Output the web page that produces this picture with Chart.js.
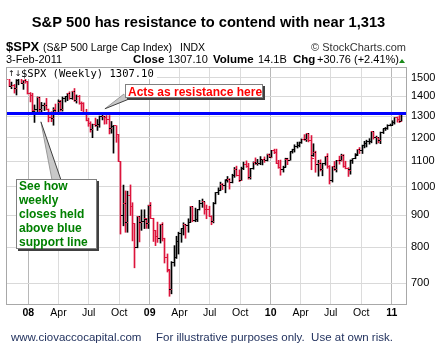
<!DOCTYPE html>
<html><head><meta charset="utf-8">
<script src="https://cdn.jsdelivr.net/npm/chart.js@4"></script>
<style>html,body{margin:0;padding:0;background:#fff}canvas{display:block}</style>
</head><body>
<canvas id="c" width="441" height="356"></canvas>
<script>
// ---- data (weekly $SPX bars) ----
const weekEnding = [
 '2007-11-02','2007-11-09','2007-11-16','2007-11-23','2007-11-30','2007-12-07','2007-12-14','2007-12-21','2007-12-28',
 '2008-01-04','2008-01-11','2008-01-18','2008-01-25','2008-02-01','2008-02-08','2008-02-15','2008-02-22','2008-02-29','2008-03-07',
 '2008-03-14','2008-03-20','2008-03-28','2008-04-04','2008-04-11','2008-04-18','2008-04-25','2008-05-02','2008-05-09','2008-05-16',
 '2008-05-23','2008-05-30','2008-06-06','2008-06-13','2008-06-20','2008-06-27','2008-07-03','2008-07-11','2008-07-18','2008-07-25',
 '2008-08-01','2008-08-08','2008-08-15','2008-08-22','2008-08-29','2008-09-05','2008-09-12','2008-09-19','2008-09-26','2008-10-03',
 '2008-10-10','2008-10-17','2008-10-24','2008-10-31','2008-11-07','2008-11-14','2008-11-21','2008-11-28','2008-12-05','2008-12-12',
 '2008-12-19','2008-12-26',
 '2009-01-02','2009-01-09','2009-01-16','2009-01-23','2009-01-30','2009-02-06','2009-02-13','2009-02-20','2009-02-27','2009-03-06',
 '2009-03-13','2009-03-20','2009-03-27','2009-04-03','2009-04-09','2009-04-17','2009-04-24','2009-05-01','2009-05-08','2009-05-15',
 '2009-05-22','2009-05-29','2009-06-05','2009-06-12','2009-06-19','2009-06-26','2009-07-02','2009-07-10','2009-07-17','2009-07-24',
 '2009-07-31','2009-08-07','2009-08-14','2009-08-21','2009-08-28','2009-09-04','2009-09-11','2009-09-18','2009-09-25','2009-10-02',
 '2009-10-09','2009-10-16','2009-10-23','2009-10-30','2009-11-06','2009-11-13','2009-11-20','2009-11-27','2009-12-04','2009-12-11',
 '2009-12-18','2009-12-24','2009-12-31',
 '2010-01-08','2010-01-15','2010-01-22','2010-01-29','2010-02-05','2010-02-12','2010-02-19','2010-02-26','2010-03-05','2010-03-12',
 '2010-03-19','2010-03-26','2010-04-01','2010-04-09','2010-04-16','2010-04-23','2010-04-30','2010-05-07','2010-05-14','2010-05-21',
 '2010-05-28','2010-06-04','2010-06-11','2010-06-18','2010-06-25','2010-07-02','2010-07-09','2010-07-16','2010-07-23','2010-07-30',
 '2010-08-06','2010-08-13','2010-08-20','2010-08-27','2010-09-03','2010-09-10','2010-09-17','2010-09-24','2010-10-01','2010-10-08',
 '2010-10-15','2010-10-22','2010-10-29','2010-11-05','2010-11-12','2010-11-19','2010-11-26','2010-12-03','2010-12-10','2010-12-17',
 '2010-12-23','2010-12-31',
 '2011-01-07','2011-01-14','2011-01-21','2011-01-28','2011-02-03'
];
const weekOpen = [
 1535,1509,1453,1458,1440,1481,1504,1468,1484,
 1476,1414,1402,1325,1330,1395,1331,1350,1353,1330,1293,1288,1330,1315,1370,1333,1390,1398,1414,1388,1425,1376,1400,1361,1360,1318,
 1278,1263,1239,1261,1258,1260,1296,1298,1292,1283,1242,1252,1255,1213,1099,899,940,877,969,931,873,800,896,876,880,888,
 873,932,890,850,832,826,869,827,770,735,683,757,769,816,842,857,870,866,878,929,883,887,919,940,946,921,919,896,879,940,
 979,987,1010,1004,1026,1029,1016,1043,1068,1044,1025,1071,1088,1080,1036,1069,1093,1091,1091,1106,1106,1102,1126,
 1115,1145,1136,1092,1074,1066,1076,1109,1105,1139,1150,1160,1167,1178,1194,1192,1217,1187,1122,1136,1088,1089,1065,1092,1118,1077,
 1023,1078,1065,1103,1102,1122,1079,1072,1065,1105,1110,1126,1149,1146,1165,1176,1183,1183,1226,1199,1200,1189,1225,1240,1244,1257,
 1258,1272,1293,1283,1276
];
const weekHigh = [
 1552.8,1520,1474.9,1462.2,1488.9,1508.1,1523.6,1484.5,1498.9,
 1478,1419,1415.2,1355,1396,1395.4,1367.9,1364.6,1388.3,1335,1321.7,1341.5,1359.7,1380.9,1378.6,1395.9,1399,1415,1422.7,1425.9,
 1440.2,1406.3,1404.1,1370.6,1366.6,1333.5,1290.4,1273.3,1262.3,1291,1284,1300.6,1313.2,1300.2,1303,1303,1274.4,1256,1255,1215,
 1099,1006.9,985.4,984.4,1007.5,943.2,873.4,896.7,896.3,918.6,918.9,890,
 934.7,943.9,890.4,851.6,877.9,870.8,876,827,780.1,735,758.3,804.5,833,845.6,856.9,875.6,871,888.7,930.2,930,
 924.6,920,951.7,956.2,946,935,931,898.6,944,979.8,996.7,1018,1012.6,1027.6,1039.5,1031.1,1048.2,1074.8,1080.2,1065.2,
 1076.2,1096.6,1101.4,1091.7,1071.5,1097.4,1113.7,1107.5,1119.1,1107.6,1117.7,1129.6,1130.4,
 1145.4,1150.4,1150.5,1103.7,1104.7,1080,1112.4,1112.4,1139,1150.2,1169.2,1180.7,1181.4,1194.7,1213.9,1217.3,1219.8,1209.9,1173.6,1141.8,
 1104,1105.7,1092,1119.1,1131.2,1082.6,1078.2,1099.1,1103.7,1120.9,1129.2,1127.2,1100.1,1074.1,1105.1,1110.9,1131.5,1148.9,1157.2,1167.7,
 1184.4,1189.4,1196.1,1227.1,1227.1,1207.4,1200,1225.6,1240.4,1246.7,1259.3,1262.6,
 1278.2,1293.3,1296.1,1302.7,1308.6
];
const weekLow = [
 1489.6,1450.3,1439.2,1416,1406.1,1460.3,1467.8,1435.7,1469,
 1411.2,1370.6,1312.8,1270.1,1322,1316.8,1321.5,1327,1330.6,1272.7,1273.4,1257,1312,1312.6,1324.4,1324.4,1370.2,1376.8,1384.1,1383.2,
 1373.1,1364.6,1358.9,1326.1,1316.4,1277.3,1252,1225.3,1200.4,1251,1233,1247.5,1282,1262,1263,1217,1220.5,1133.5,1179.8,1099,
 839.8,865.8,845.3,845.3,899.7,818.7,741,798,815.7,851.4,857.1,857.7,
 857.3,889.3,817,804.5,814.3,812.2,818.4,754.3,729.6,666.8,672.9,745.5,767.2,779.8,814.5,836.9,826.8,845.4,877,878.9,
 878.9,879.6,918,927.1,903.8,888.9,896,869.3,875.3,939,972,986,990.2,978.5,1017.9,992,1015,1036.1,1041.2,1020,
 1024,1066.1,1075.2,1029.4,1029.4,1068,1086.7,1083.7,1085.9,1085,1095.4,1101,1114.8,
 1114,1131.4,1090.2,1071.6,1044.5,1056.5,1075.5,1086,1104,1133.5,1138,1155,1160,1175.3,1188.6,1183.7,1181.6,1065.8,1120,1055.9,
 1040.8,1060.9,1042.2,1084,1071.6,1010.9,1018.3,1063.3,1056.9,1088,1101,1075.6,1069.3,1039.7,1048.3,1091,1110,1122.8,1131.9,1131.9,
 1155.7,1159.7,1171.7,1177.7,1194.1,1173,1177.4,1174,1218.8,1232.8,1238,1254,
 1257.6,1262.2,1271.3,1269.3,1276.3
];
const weekClose = [
 1509.65,1453.70,1458.74,1440.70,1481.14,1504.66,1467.95,1484.46,1478.49,
 1411.63,1401.02,1325.19,1330.61,1395.42,1331.29,1349.99,1353.11,1330.63,1293.37,1288.14,1329.51,1315.22,1370.40,1332.83,1390.33,
 1397.84,1413.90,1388.28,1425.35,1375.93,1400.38,1360.68,1360.03,1317.93,1278.38,1262.90,1239.49,1260.68,1257.76,1260.31,1296.32,
 1298.20,1292.20,1282.83,1242.31,1251.70,1255.08,1213.27,1099.23,899.22,940.55,876.77,968.75,930.99,873.29,800.03,896.24,876.07,
 879.73,887.88,872.80,
 931.80,890.35,850.12,831.95,825.88,868.60,826.84,770.05,735.09,683.38,756.55,768.54,815.94,842.50,856.56,869.60,866.23,877.52,929.23,882.88,
 887.00,919.14,940.09,946.21,921.23,918.90,896.42,879.13,940.38,979.26,987.48,1010.48,1004.09,1026.13,1028.93,1016.40,1042.73,1068.30,1044.38,1025.21,
 1071.49,1087.68,1079.60,1036.19,1069.30,1093.48,1091.38,1091.49,1105.98,1106.41,1102.47,1126.48,1115.10,
 1144.98,1136.03,1091.76,1073.87,1066.19,1075.51,1109.17,1104.49,1138.70,1149.99,1159.90,1166.59,1178.10,1194.37,1192.13,1217.28,1186.69,1110.88,1135.68,1087.69,
 1089.41,1064.88,1091.60,1117.51,1076.76,1022.58,1077.96,1064.88,1102.66,1101.60,1121.64,1079.25,1071.69,1064.59,1104.51,1109.55,1125.59,1148.67,1146.24,1165.15,
 1176.19,1183.08,1183.26,1225.85,1199.21,1199.73,1189.40,1224.71,1240.40,1243.91,1256.77,1257.64,
 1271.50,1293.24,1283.35,1276.34,1307.10
];
const priorClose = 1535.28;
const resistanceLevel = 1313;
const yTickValues = [700, 800, 900, 1000, 1100, 1200, 1300, 1400, 1500];
const yRange = [648, 1554];
const xTickDates = ['2008-01-01','2008-04-01','2008-07-01','2008-10-01','2009-01-01','2009-04-01','2009-07-01','2009-10-01',
                    '2010-01-01','2010-04-01','2010-07-01','2010-10-01','2011-01-01'];
const xTickLabels = ['08','Apr','Jul','Oct','09','Apr','Jul','Oct','10','Apr','Jul','Oct','11'];
const xRangeDates = ['2007-10-29', '2011-02-13'];

// ---- helpers ----
function dayNum(s){ const p = s.split('-').map(Number); return Date.UTC(p[0], p[1]-1, p[2]) / 864e5; }
function weekStart(s){ const n = dayNum(s); const dow = new Date(n*864e5).getUTCDay(); return n - ((dow + 6) % 7); }
const xMin = dayNum(xRangeDates[0]) - 0.25, xMax = dayNum(xRangeDates[1]);
const RED = '#dc143c', BLACK = '#000000';
const barX = weekEnding.map(weekStart);
const isUp = weekClose.map((c, i) => c >= (i ? weekClose[i-1] : priorClose));
const barColor = isUp.map(u => u ? BLACK : RED);
function tickImg(color, side){
  const c = document.createElement('canvas'); c.width = 5; c.height = 1;
  const g = c.getContext('2d'); g.fillStyle = color; g.fillRect(side === 'L' ? 0 : 3, 0, 2, 1);
  return c;
}
const imgs = { L: {u: tickImg(BLACK,'L'), d: tickImg(RED,'L')}, R: {u: tickImg(BLACK,'R'), d: tickImg(RED,'R')} };
const FONT = 'Arial, "Liberation Sans", sans-serif';

const crisp = {
  id: 'crisp',
  afterDatasetsUpdate(chart){
    chart.data.datasets.forEach((ds, i) => {
      if (!ds.crispX) return;
      chart.getDatasetMeta(i).data.forEach(el => {
        el.x = Math.floor(el.x) + 0.5;
        if (ds.crispY) el.y = Math.floor(el.y) + 0.5;
      });
    });
  }
};

function noteBox(ctx, x, y, w, h){
  ctx.fillStyle = '#404040'; ctx.fillRect(x + 2, y + 2, w, h);
  ctx.fillStyle = '#ffffff'; ctx.fillRect(x, y, w, h);
  ctx.strokeStyle = '#808080'; ctx.lineWidth = 1; ctx.strokeRect(x + 0.5, y + 0.5, w - 1, h - 1);
}
function wedge(ctx, b1, tip, b2){
  ctx.beginPath(); ctx.moveTo(b1[0], b1[1]); ctx.lineTo(tip[0], tip[1]); ctx.lineTo(b2[0], b2[1]); ctx.closePath();
  ctx.fillStyle = '#c8c8c8'; ctx.fill();
  ctx.strokeStyle = '#9a9a9a'; ctx.lineWidth = 1;
  ctx.beginPath(); ctx.moveTo(b1[0], b1[1]); ctx.lineTo(tip[0], tip[1]); ctx.stroke();
  ctx.strokeStyle = '#404040';
  ctx.beginPath(); ctx.moveTo(tip[0], tip[1]); ctx.lineTo(b2[0], b2[1]); ctx.stroke();
}

const decor = {
  id: 'decor',
  beforeDraw(chart){
    const ctx = chart.ctx; ctx.save(); ctx.fillStyle = '#fff'; ctx.fillRect(0, 0, chart.width, chart.height); ctx.restore();
  },
  afterDatasetsDraw(chart){
    const {ctx, chartArea: a, scales: {x, y}} = chart;
    ctx.save();
    // legend strip
    ctx.fillStyle = '#fff'; ctx.fillRect(a.left, a.top, 150, 11);
    ctx.fillStyle = '#000'; ctx.textBaseline = 'alphabetic'; ctx.textAlign = 'left';
    ctx.font = '8px "DejaVu Sans"'; ctx.fillText('\u2191\u2193', 8, 76);
    ctx.font = '10.5px "DejaVu Sans Mono", monospace'; ctx.fillText('$SPX (Weekly) 1307.10', 21, 76.5);
    // plot border
    ctx.strokeStyle = '#a8a8a8'; ctx.lineWidth = 1;
    ctx.strokeRect(a.left - 0.5, a.top - 0.5, a.right - a.left + 1, a.bottom - a.top + 1);
    // resistance note
    const t1 = [x.getPixelForValue(dayNum('2008-08-19')), y.getPixelForValue(1336)];
    wedge(ctx, [124, 94], t1, [134, 97]);
    noteBox(ctx, 125, 84, 138, 14);
    ctx.fillStyle = '#ff0000'; ctx.font = 'bold 12px ' + FONT;
    ctx.fillText('Acts as resistance here', 128, 95.5);
    // support note
    const t2 = [x.getPixelForValue(dayNum('2008-02-08')), y.getPixelForValue(1273)];
    wedge(ctx, [52, 180], t2, [61, 180]);
    noteBox(ctx, 16, 179, 81, 70);
    ctx.fillStyle = '#008000'; ctx.font = 'bold 12px ' + FONT;
    ['See how','weekly','closes held','above blue','support line'].forEach((s, i) => ctx.fillText(s, 19, 190 + i*14));
    ctx.restore();
  },
  afterDraw(chart){
    const ctx = chart.ctx;
    ctx.save();
    ctx.textBaseline = 'alphabetic';
    ctx.fillStyle = '#000'; ctx.textAlign = 'center'; ctx.font = 'bold 14.7px ' + FONT;
    ctx.fillText('S&P 500 has resistance to contend with near 1,313', 208.5, 26.5);
    ctx.textAlign = 'left';
    ctx.font = 'bold 13px ' + FONT; ctx.fillText('$SPX', 6, 50.5);
    ctx.font = '10.5px ' + FONT; ctx.fillText('(S&P 500 Large Cap Index)', 43, 50.5);
    ctx.fillText('INDX', 180, 50.5);
    ctx.font = '11px ' + FONT;
    ctx.fillStyle = '#333'; ctx.textAlign = 'right'; ctx.fillText('\u00A9 StockCharts.com', 406, 50.5);
    ctx.fillStyle = '#000'; ctx.textAlign = 'left';
    ctx.font = '11px ' + FONT; ctx.fillText('3-Feb-2011', 6, 63.3);
    const parts = [['Close', 133, true], ['1307.10', 168, false], ['Volume', 213, true], ['14.1B', 258, false],
                   ['Chg', 293, true], ['+30.76 (+2.41%)', 317, false]];
    parts.forEach(p => { ctx.font = (p[2] ? 'bold 11.5px ' : '11px ') + FONT; ctx.fillText(p[0], p[1], 63.3); });
    ctx.fillStyle = '#1a8a1a'; ctx.beginPath(); ctx.moveTo(399, 63); ctx.lineTo(405, 63); ctx.lineTo(402, 59); ctx.closePath(); ctx.fill();
    ctx.fillStyle = '#23335f'; ctx.font = '11.5px ' + FONT;
    ctx.fillText('www.ciovaccocapital.com', 11, 340.5);
    ctx.fillText('For illustrative purposes only.  Use at own risk.', 156, 340.5);
    ctx.restore();
  }
};

new Chart(document.getElementById('c'), {
  type: 'bar',
  data: {
    datasets: [
      { type: 'line', data: [{x: xMin, y: resistanceLevel}, {x: xMax, y: resistanceLevel}],
        borderColor: '#0000ff', borderWidth: 3, pointRadius: 0, order: 0 },
      { type: 'scatter', data: barX.map((x, i) => ({x, y: weekOpen[i]})), crispX: true, crispY: true,
        pointStyle: c => imgs.L[isUp[c.dataIndex] ? 'u' : 'd'], pointRadius: 2, order: 1 },
      { type: 'scatter', data: barX.map((x, i) => ({x, y: weekClose[i]})), crispX: true, crispY: true,
        pointStyle: c => imgs.R[isUp[c.dataIndex] ? 'u' : 'd'], pointRadius: 2, order: 1 },
      { type: 'bar', data: barX.map((x, i) => ({x, y: [weekLow[i], weekHigh[i]]})), crispX: true,
        backgroundColor: barColor, borderWidth: 0, barThickness: 1, order: 2 }
    ]
  },
  options: {
    responsive: false, animation: false, devicePixelRatio: 1, events: [],
    layout: { padding: { left: 7, top: 68, right: 0, bottom: 0 } },
    plugins: { legend: { display: false }, tooltip: { enabled: false } },
    scales: {
      x: {
        type: 'linear', min: xMin, max: xMax, offset: false,
        grid: { offset: false, drawTicks: false, color: c => (c.index % 4 === 0 ? '#b8b8b8' : '#dcdcdc') },
        border: { display: false },
        ticks: { autoSkip: false, maxRotation: 0, padding: 3, color: '#000',
          font: c => ({ family: FONT, size: 10.5, weight: (c.index % 4 === 0 ? 'bold' : 'normal') }),
          callback: (v, i) => xTickLabels[i] },
        afterBuildTicks: s => { s.ticks = xTickDates.map(d => ({ value: dayNum(d) })); },
        afterFit: s => { s.height = 52; }
      },
      y: {
        type: 'logarithmic', position: 'right', min: yRange[0], max: yRange[1],
        grid: { drawTicks: false, color: '#d9d9d9' },
        border: { display: false },
        ticks: { padding: 5, color: '#000', font: { family: FONT, size: 11 }, callback: v => String(v) },
        afterBuildTicks: s => { s.ticks = yTickValues.map(v => ({ value: v })); },
        afterFit: s => { s.width = 35; }
      }
    }
  },
  plugins: [crisp, decor]
});
</script>
</body></html>
